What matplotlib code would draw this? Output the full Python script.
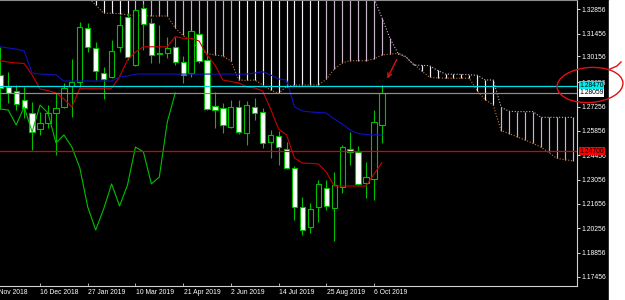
import numpy as np
import matplotlib.pyplot as plt
from matplotlib.patches import Ellipse, Rectangle
from matplotlib.transforms import blended_transform_factory

plt.rcParams['font.family'] = ['Liberation Sans', 'DejaVu Sans']

# weekly bars, bar 0 = week of 11 Nov 2018, bar 48 = week of 13 Oct 2019
opens = [1.2908, 1.2839, 1.2816, 1.2764, 1.2689, 1.2597, 1.2632, 1.2689, 1.2724, 1.2844,
         1.2867, 1.3178, 1.3063, 1.2919, 1.2896, 1.3069, 1.3241, 1.2965, 1.3293, 1.3207,
         1.3037, 1.3034, 1.3069, 1.2982, 1.2919, 1.3144, 1.2994, 1.2729, 1.2718, 1.2609,
         1.2724, 1.2574, 1.2724, 1.2695, 1.2522, 1.2557, 1.2482, 1.2373, 1.2148, 1.2033,
         1.2148, 1.2258, 1.2143, 1.2263, 1.2482, 1.2465, 1.2286, 1.2309, 1.2620]
highs = [1.3069, 1.2925, 1.2850, 1.2839, 1.2752, 1.2695, 1.2735, 1.2804, 1.2862, 1.3000,
         1.3213, 1.3207, 1.3097, 1.2954, 1.3109, 1.3253, 1.3264, 1.3287, 1.3316, 1.3236,
         1.3195, 1.3126, 1.3126, 1.3017, 1.3167, 1.3149, 1.3034, 1.2810, 1.2747, 1.2764,
         1.2764, 1.2758, 1.2775, 1.2718, 1.2591, 1.2586, 1.2522, 1.2384, 1.2206, 1.2171,
         1.2304, 1.2304, 1.2350, 1.2505, 1.2580, 1.2499, 1.2407, 1.2706, 1.2850]
lows = [1.2712, 1.2747, 1.2706, 1.2660, 1.2476, 1.2563, 1.2603, 1.2447, 1.2718, 1.2666,
        1.2839, 1.3040, 1.2879, 1.2770, 1.2890, 1.3040, 1.2994, 1.2959, 1.3051, 1.2977,
        1.2977, 1.3005, 1.2965, 1.2862, 1.2896, 1.2977, 1.2706, 1.2603, 1.2574, 1.2603,
        1.2568, 1.2505, 1.2649, 1.2488, 1.2430, 1.2390, 1.2367, 1.2074, 1.1987, 1.1999,
        1.2062, 1.2131, 1.1953, 1.2229, 1.2390, 1.2275, 1.2200, 1.2189, 1.2517]
closes = [1.2833, 1.2804, 1.2741, 1.2718, 1.2580, 1.2632, 1.2689, 1.2718, 1.2833, 1.2867,
          1.3184, 1.3069, 1.2931, 1.2885, 1.3046, 1.3195, 1.3011, 1.3282, 1.3201, 1.3023,
          1.3028, 1.3063, 1.2982, 1.2908, 1.3161, 1.2988, 1.2712, 1.2706, 1.2620, 1.2724,
          1.2580, 1.2735, 1.2689, 1.2517, 1.2563, 1.2493, 1.2373, 1.2148, 1.2016, 1.2137,
          1.2281, 1.2154, 1.2275, 1.2493, 1.2465, 1.2281, 1.2321, 1.2637, 1.2804]

tenkan = [1.2990, 1.2982, 1.2977, 1.2974, 1.2908, 1.2827, 1.2818, 1.2804, 1.2770, 1.2724,
          1.2831, 1.2831, 1.2831, 1.2831, 1.2831, 1.2898, 1.2994, 1.3040, 1.3070, 1.3070,
          1.3070, 1.3070, 1.3129, 1.3119, 1.3119, 1.3103, 1.3023, 1.2965, 1.2879, 1.2870,
          1.2862, 1.2839, 1.2833, 1.2816, 1.2712, 1.2597, 1.2563, 1.2430, 1.2401, 1.2399,
          1.2396, 1.2350, 1.2269, 1.2269, 1.2269, 1.2269, 1.2269, 1.2338, 1.2403]
kijun = [1.3070, 1.3063, 1.3057, 1.3046, 1.2919, 1.2913, 1.2911, 1.2908, 1.2873, 1.2873,
         1.2873, 1.2873, 1.2873, 1.2873, 1.2873, 1.2896, 1.2902, 1.2913, 1.2913, 1.2913,
         1.2913, 1.2913, 1.2913, 1.2913, 1.2913, 1.2913, 1.2913, 1.2913, 1.2913, 1.2913,
         1.2913, 1.2913, 1.2919, 1.2927, 1.2908, 1.2885, 1.2879, 1.2724, 1.2701, 1.2695,
         1.2692, 1.2689, 1.2655, 1.2626, 1.2591, 1.2571, 1.2565, 1.2563, 1.2563]

# kumo (senkou spans, already shifted 26 bars ahead), starting at bar 11
span_start = 11
span_lower = [1.3356, 1.3310, 1.3263, 1.3263, 1.3261, 1.3253, 1.3250, 1.3250, 1.3247, 1.3247,
              1.3247, 1.3178, 1.3135, 1.3097, 1.3060, 1.3031, 1.3023, 1.3017, 1.2988, 1.2879,
              1.2876, 1.2879, 1.2850, 1.2821, 1.2802, 1.2841, 1.2850, 1.2850, 1.2850, 1.2850,
              1.2882, 1.2942, 1.2977, 1.2990, 1.2990, 1.2990, 1.3000, 1.3023, 1.3028, 1.3031,
              1.3011, 1.2971, 1.2931, 1.2894, 1.2891, 1.2889, 1.2889, 1.2889, 1.2889, 1.2816,
              1.2766, 1.2735, 1.2588, 1.2571, 1.2552, 1.2534, 1.2514, 1.2493, 1.2462, 1.2428,
              1.2421, 1.2414]
span_upper = [1.3460, 1.3460, 1.3460, 1.3460, 1.3460, 1.3460, 1.3460, 1.3460, 1.3460, 1.3460,
              1.3460, 1.3460, 1.3460, 1.3460, 1.3460, 1.3460, 1.3460, 1.3460, 1.3460, 1.3420,
              1.3420, 1.3420, 1.3420, 1.3420, 1.3420, 1.3420, 1.3420, 1.3420, 1.3420, 1.3420,
              1.3420, 1.3420, 1.3420, 1.3420, 1.3375, 1.3375, 1.3351, 1.3236, 1.3120, 1.3034,
              1.3014, 1.2965, 1.2963, 1.2961, 1.2934, 1.2913, 1.2912, 1.2911, 1.2909, 1.2906,
              1.2879, 1.2879, 1.2722, 1.2699, 1.2697, 1.2697, 1.2697, 1.2664, 1.2664, 1.2664,
              1.2664, 1.2664]
white_kumo = [(12, 16), (30, 40), (50, 62)]

level_lines = [1.28470, 1.28059, 1.24700]
price_ticks = [1.32856, 1.31456, 1.30156, 1.28656, 1.27256, 1.25856, 1.24456,
               1.23056, 1.21656, 1.20256, 1.18856, 1.17456]
date_labels = ['4 Nov 2018', '16 Dec 2018', '27 Jan 2019', '10 Mar 2019', '21 Apr 2019',
               '2 Jun 2019', '14 Jul 2019', '25 Aug 2019', '6 Oct 2019']
date_pos = np.arange(-1, 48, 6)

GREEN = '#00c000'
fig = plt.figure(figsize=(6.25, 3), dpi=100, facecolor='black')
ax = fig.add_axes([0, 14 / 300, 577 / 625, 286 / 300])
ax.set_facecolor('black')
ax.set_xlim(-0.04, -0.04 + 577 / 7.95)
ax.set_ylim(1.16938, 1.33391)

# kumo hatch
idx_span = np.arange(span_start, span_start + len(span_lower))
hatch_cols = []
for i in idx_span:
    w = any(a <= i <= b for a, b in white_kumo)
    hatch_cols.append('#f6eef6' if w else '#c8b4c8')
ax.vlines(idx_span, span_lower, span_upper, colors=hatch_cols, lw=0.85, zorder=1)
ax.plot(idx_span, span_lower, color='#c07840', lw=0.8, ls=(0, (1, 1.6)), zorder=2)
ax.plot(idx_span, span_upper, color='#c8b4c8', lw=0.8, ls=(0, (1, 1.6)), zorder=2)

# candles
n = len(opens)
idx = np.arange(n)
o = np.array(opens); c = np.array(closes)
ax.vlines(idx, lows, highs, colors=GREEN, lw=0.8, zorder=3)
bottoms = np.minimum(o, c)
heights = np.maximum(np.abs(c - o), 0.0004)
fills = ['white' if cc < oo else 'black' for oo, cc in zip(o, c)]
ax.bar(idx, heights, bottom=bottoms, width=0.66, color=fills, edgecolor=GREEN,
       linewidth=0.8, zorder=4)

# ichimoku lines
ax.plot(idx, tenkan, color='#c80000', lw=0.8, zorder=5)
ax.plot(idx, kijun, color='#1010c0', lw=0.8, zorder=5)
ax.plot(idx - 26, closes, color=GREEN, lw=0.8, zorder=5)

# horizontal levels
for lvl, col in zip(level_lines, ['#00e0e8', '#8c8c8c', '#e00000']):
    ax.axhline(lvl, color=col, lw=0.9, zorder=6)

# axes styling
ax.spines['left'].set_visible(False)
ax.spines['top'].set_color('#8c8c8c')
ax.spines['right'].set_color('#d0d0d0')
ax.spines['bottom'].set_color('#d0d0d0')
ax.yaxis.tick_right()
ax.set_yticks(price_ticks)
ax.set_yticklabels([f'{v:.5f}' for v in price_ticks])
ax.tick_params(axis='y', colors='white', length=2, width=0.6, pad=1.5, labelsize=4.9)
ax.set_xticks(date_pos[1:])
ax.set_xticklabels([])
ax.tick_params(axis='x', colors='#d0d0d0', length=2, width=0.6, direction='in')
bt = blended_transform_factory(ax.transData, ax.transAxes)
for p, lab in zip(date_pos, date_labels):
    ax.text(p + 0.05, -0.01, lab, transform=bt, color='white', fontsize=4.9,
            ha='left', va='top', clip_on=False)

# price boxes
rt = blended_transform_factory(ax.transAxes, ax.transData)
for lvl, fc in zip(level_lines, ['#00f0f0', 'white', '#ff0000']):
    ax.text(1.004, lvl, f'{lvl:.5f}', transform=rt, fontsize=4.9, color='black',
            ha='left', va='center', zorder=10,
            bbox=dict(boxstyle='square,pad=0.1', fc=fc, ec='none'))

# overlay in pixel coords: white strip, hand-drawn circle and arrow
ov = fig.add_axes([0, 0, 1, 1], zorder=20)
ov.set_xlim(0, 625)
ov.set_ylim(300, 0)
ov.axis('off')
ov.patch.set_alpha(0)
ov.add_patch(Rectangle((609, 0), 16, 300, color='white', zorder=1))
ov.add_patch(Ellipse((590, 85), 66, 35, angle=-4, fill=False, ec='#e01010', lw=1.0, zorder=2))
ov.plot([610, 617, 621], [69, 66, 62], color='#e01010', lw=1.0, zorder=2)
ov.annotate('', xy=(386, 81), xytext=(398, 57),
            arrowprops=dict(arrowstyle='->', color='#e01010', lw=1.0, mutation_scale=7))

fig.savefig('out.png', dpi=100, facecolor='black')
